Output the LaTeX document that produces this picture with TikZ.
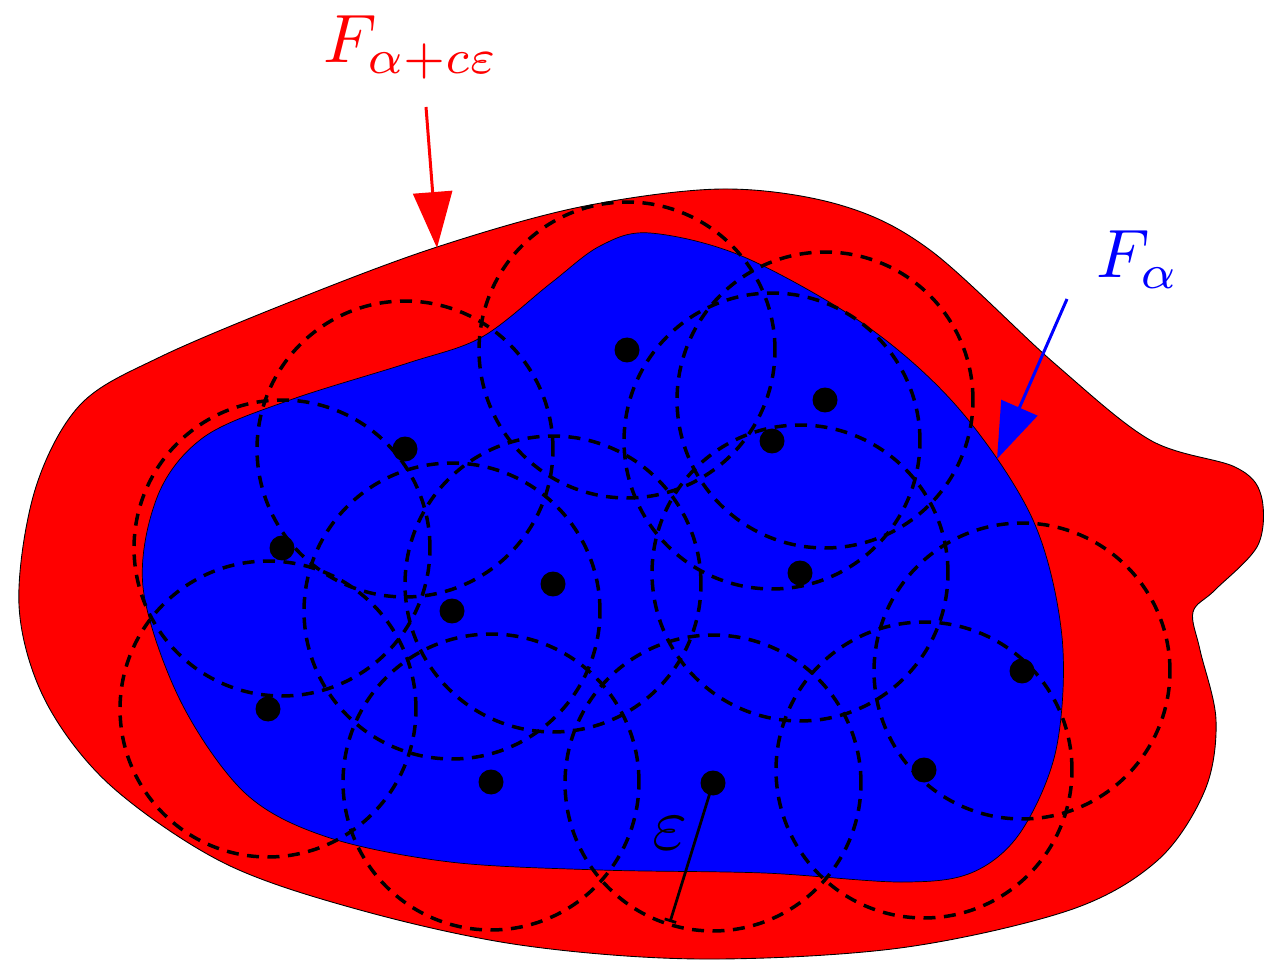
\documentclass[tikz,border=0pt]{standalone}
\usetikzlibrary{arrows.meta}
\begin{document}
\begin{tikzpicture}[x=0.02cm,y=-0.02cm,
  outer/.style={fill=red, draw=black, line width=0.5pt},
  inner/.style={fill=blue, draw=black, line width=0.4pt},
  cover/.style={draw=black, line width=0.07cm, dash pattern=on 0.24cm off 0.17cm},
  pt/.style={circle, fill=black, inner sep=0pt, minimum size=0.5cm},
  ptr/.style={line width=0.06cm, -{Triangle[length=1.12cm,width=0.78cm]}},
  lab/.style={scale=3.9, inner sep=0pt}]
\useasboundingbox (0,0) rectangle (1281,962);
% outer set
\draw[outer] plot[smooth cycle, tension=0.55] coordinates {
 (19,605) (35,490) (80,405) (160,357) (300,298) (437,247) (580,207)
 (723,189) (840,205) (930,250) (1054,363) (1150,440) (1235,467) (1261,495)
 (1258,545) (1215,590) (1193,612) (1200,650) (1216,720) (1205,790)
 (1158,860) (1070,910) (900,948) (700,959) (520,945) (360,910) (224,863)
 (110,785) (45,700)};
% inner set
\draw[inner] plot[smooth cycle, tension=0.55] coordinates {
 (143,587) (158,495) (204,437) (290,400) (408,363) (482,337) (551,283)
 (600,246) (650,233) (744,257) (868,327) (960,410) (1033,520) (1062,637)
 (1056,750) (1020,833) (971,873) (900,882) (764,873) (600,870) (450,862)
 (327,837) (245,793) (180,700)};
% centres
\coordinate (c1) at (627,350);
\coordinate (c2) at (825,400);
\coordinate (c3) at (405,449);
\coordinate (c4) at (772,441);
\coordinate (c5) at (282,548);
\coordinate (c6) at (553,584);
\coordinate (c7) at (452,611);
\coordinate (c8) at (800,573);
\coordinate (c9) at (1022,671);
\coordinate (c10) at (268,709);
\coordinate (c11) at (491,782);
\coordinate (c12) at (713,783);
\coordinate (c13) at (924,770);
\foreach \i in {1,...,13} \draw[cover] (c\i) circle[radius=2.96cm];
\foreach \i in {1,...,13} \node[pt] (d\i) at (c\i) {};
% radius
\coordinate (e) at (670,922);
\draw[line width=0.055cm, -{Bar[width=0.24cm]}] (d12.center) -- (e);
\node[lab, scale=1.1] (eps) at (670,833) {$\varepsilon$};
% labels and arrows
\node[lab, red, anchor=base west] (lbig) at (322,63) {$F_{\alpha+c\varepsilon}$};
\node[lab, blue, anchor=base west] (lsmall) at (1095,278) {$F_{\alpha}$};
\coordinate (r1) at (426,107);
\coordinate (r2) at (437,248);
\coordinate (b1) at (1067,299);
\coordinate (b2) at (997,459);
\draw[ptr, red] (r1) -- (r2);
\draw[ptr, blue] (b1) -- (b2);
\end{tikzpicture}
\end{document}
